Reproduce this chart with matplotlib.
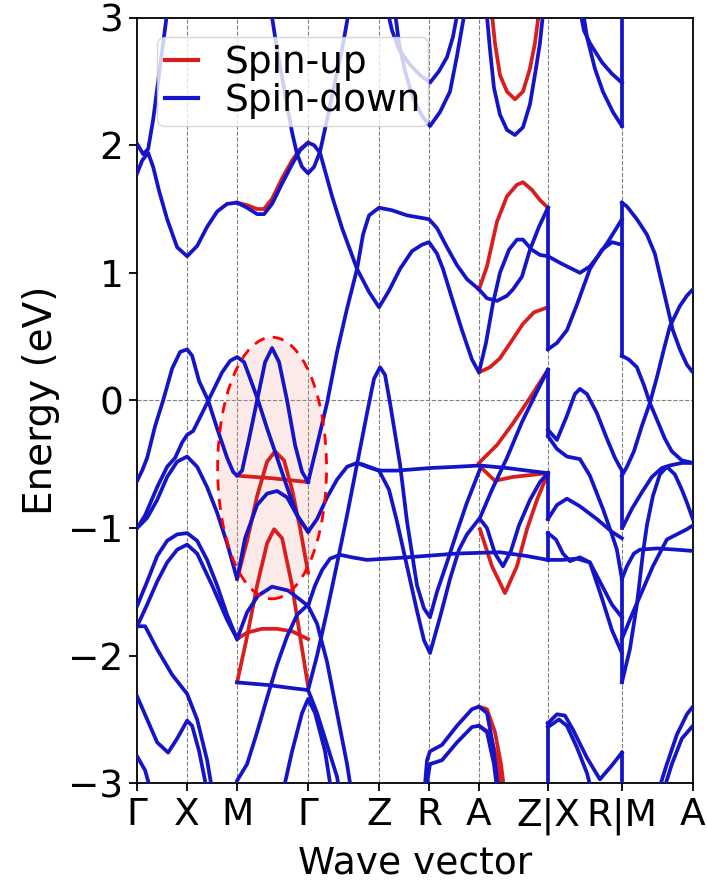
import matplotlib.pyplot as plt
from matplotlib.patches import Ellipse
from matplotlib.lines import Line2D

# high-symmetry path (k in path units)
k_ticks = [0.0, 0.50, 1.00, 1.71, 2.42, 2.92, 3.42, 4.11, 4.85, 5.56]
k_labels = ['Γ', 'X', 'M', 'Γ', 'Z', 'R', 'A', 'Z|X', 'R|M', 'A']

# spin-down bands, (k, E)
spin_down = [
    [(0, 2.01), (0.06, 1.93), (0.11, 1.97), (0.16, 2.2), (0.21, 2.5), (0.26, 2.8), (0.31, 3.1)],
    [(0, 1.78), (0.05, 1.88), (0.11, 1.94), (0.16, 1.83), (0.22, 1.64), (0.3, 1.42), (0.4, 1.2),
     (0.5, 1.13), (0.6, 1.21), (0.7, 1.36), (0.8, 1.48), (0.9, 1.54), (1.0, 1.55), (1.1, 1.51),
     (1.2, 1.46), (1.27, 1.46), (1.35, 1.54), (1.45, 1.7), (1.55, 1.85), (1.63, 1.96), (1.71, 2.02),
     (1.77, 2.0), (1.83, 1.94), (1.95, 1.6), (2.05, 1.35), (2.2, 1.03), (2.32, 0.85), (2.42, 0.73),
     (2.52, 0.86), (2.63, 1.03), (2.75, 1.17), (2.85, 1.22), (2.92, 1.24), (3.0, 1.15), (3.06, 1.03),
     (3.15, 0.8), (3.25, 0.55), (3.35, 0.32), (3.42, 0.22), (3.49, 0.45), (3.56, 0.76), (3.63, 1.0),
     (3.72, 1.18), (3.8, 1.26), (3.86, 1.26), (3.95, 1.18), (4.03, 1.14), (4.11, 1.13)],
    [(1.33, 3.1), (1.4, 2.75), (1.48, 2.4), (1.55, 2.1), (1.6, 1.93), (1.65, 1.83), (1.71, 1.78),
     (1.77, 1.83), (1.83, 1.95), (1.9, 2.2), (1.98, 2.5), (2.05, 2.75), (2.13, 3.1)],
    [(1.71, -0.64), (1.8, -0.35), (1.9, -0.02), (2.0, 0.38), (2.1, 0.72), (2.2, 1.03), (2.26, 1.3),
     (2.32, 1.45), (2.42, 1.51), (2.55, 1.49), (2.7, 1.45), (2.92, 1.42), (3.0, 1.35), (3.1, 1.2),
     (3.2, 1.06), (3.3, 0.95), (3.42, 0.87), (3.5, 0.8), (3.6, 0.78), (3.7, 0.82), (3.76, 0.87),
     (3.85, 0.97), (3.93, 1.18), (4.02, 1.36), (4.11, 1.51)],
    [(2.49, 3.1), (2.55, 2.9), (2.62, 2.75), (2.73, 2.63), (2.83, 2.55), (2.93, 2.49), (3.02, 2.58),
     (3.1, 2.69), (3.16, 2.85), (3.22, 3.1)],
    [(2.57, 3.1), (2.62, 2.8), (2.68, 2.58), (2.76, 2.37), (2.85, 2.23), (2.93, 2.15), (3.03, 2.26),
     (3.13, 2.42), (3.2, 2.7), (3.29, 3.1)],
    [(3.49, 3.1), (3.53, 2.75), (3.57, 2.45), (3.63, 2.24), (3.7, 2.12), (3.78, 2.08), (3.86, 2.14),
     (3.93, 2.32), (3.99, 2.6), (4.03, 2.8), (4.07, 3.1)],
    [(4.42, 3.1), (4.47, 2.9), (4.53, 2.8), (4.65, 2.65), (4.75, 2.56), (4.85, 2.49)],
    [(4.45, 3.1), (4.5, 2.85), (4.58, 2.6), (4.66, 2.42), (4.76, 2.26), (4.85, 2.15)],
    # Gamma-X-M-Gamma valence region
    [(0, -0.63), (0.05, -0.55), (0.1, -0.45), (0.18, -0.2), (0.26, 0.0), (0.35, 0.25), (0.43, 0.38),
     (0.5, 0.40), (0.55, 0.35), (0.62, 0.15), (0.71, 0.0), (0.8, -0.22), (0.9, -0.45), (0.96, -0.56),
     (1.0, -0.59), (1.05, -0.55), (1.12, -0.3), (1.2, 0.0), (1.28, 0.3), (1.35, 0.41), (1.42, 0.3),
     (1.5, 0.0), (1.58, -0.35), (1.65, -0.56), (1.71, -0.64)],
    [(0, -1.0), (0.08, -0.9), (0.2, -0.68), (0.3, -0.52), (0.38, -0.45), (0.45, -0.33), (0.5, -0.27),
     (0.56, -0.24), (0.65, -0.1), (0.75, 0.06), (0.85, 0.22), (0.93, 0.31), (1.0, 0.34), (1.07, 0.3),
     (1.15, 0.13), (1.21, 0.0), (1.3, -0.22), (1.4, -0.45), (1.5, -0.68), (1.6, -0.9), (1.71, -1.03),
     (1.8, -0.93), (1.9, -0.76), (2.0, -0.62), (2.1, -0.52), (2.2, -0.49), (2.3, -0.52), (2.42, -0.55),
     (2.52, -0.7), (2.6, -0.95), (2.7, -1.3), (2.8, -1.65), (2.87, -1.88), (2.93, -1.98), (3.03, -1.7),
     (3.13, -1.40), (3.22, -1.17), (3.3, -1.05), (3.43, -0.92), (3.55, -0.7), (3.7, -0.45),
     (3.85, -0.17), (4.0, 0.07), (4.11, 0.24)],
    [(2.25, -0.5), (2.42, -0.55), (2.6, -0.55), (2.93, -0.53), (3.2, -0.52), (3.43, -0.51),
     (3.7, -0.53), (3.9, -0.55), (4.11, -0.57)],
    [(1.71, -2.27), (1.8, -2.0), (1.9, -1.65), (2.0, -1.28), (2.1, -0.9), (2.2, -0.5), (2.3, -0.1),
     (2.37, 0.17), (2.43, 0.26), (2.48, 0.2), (2.53, -0.02), (2.63, -0.5), (2.7, -0.95), (2.8, -1.45),
     (2.87, -1.63), (2.93, -1.70), (3.0, -1.5), (3.1, -1.27), (3.2, -1.03), (3.3, -0.8), (3.43, -0.54)],
    [(0, -1.61), (0.1, -1.42), (0.2, -1.22), (0.3, -1.1), (0.4, -1.05), (0.5, -1.04), (0.6, -1.1),
     (0.7, -1.25), (0.8, -1.45), (0.9, -1.68), (1.0, -1.87), (1.1, -1.66), (1.21, -1.53), (1.35, -1.46),
     (1.51, -1.49), (1.71, -1.61), (1.78, -1.45), (1.85, -1.33), (1.93, -1.24), (2.03, -1.21),
     (2.15, -1.23), (2.3, -1.25), (2.7, -1.23), (3.2, -1.2), (3.63, -1.19), (3.9, -1.22), (4.11, -1.25)],
    [(0, -1.0), (0.1, -0.92), (0.2, -0.78), (0.3, -0.6), (0.4, -0.48), (0.5, -0.44), (0.6, -0.52),
     (0.7, -0.68), (0.8, -0.88), (0.9, -1.12), (1.0, -1.40), (1.08, -1.08), (1.2, -0.82), (1.3, -0.73),
     (1.4, -0.71), (1.5, -0.76), (1.6, -0.9), (1.71, -1.03)],
    [(0, -1.77), (0.1, -1.6), (0.2, -1.42), (0.3, -1.27), (0.4, -1.17), (0.5, -1.13), (0.6, -1.2),
     (0.75, -1.45), (0.9, -1.72), (1.0, -1.87)],
    [(0, -1.77), (0.08, -1.77), (0.2, -1.95), (0.35, -2.15), (0.5, -2.3), (0.6, -2.5), (0.7, -2.82),
     (0.76, -3.1)],
    [(0, -2.32), (0.1, -2.5), (0.2, -2.68), (0.31, -2.76), (0.4, -2.65), (0.5, -2.51), (0.55, -2.55),
     (0.62, -2.75), (0.71, -3.1)],
    [(0, -2.79), (0.08, -2.9), (0.15, -3.1)],
    [(1.0, -2.21), (1.3, -2.23), (1.6, -2.26), (1.71, -2.27)],
    [(1.0, -2.98), (1.1, -2.85), (1.2, -2.6), (1.3, -2.33), (1.4, -2.07), (1.5, -1.85), (1.6, -1.68),
     (1.71, -1.6)],
    [(1.71, -1.61), (1.8, -1.75), (1.9, -2.05), (2.0, -2.45), (2.1, -2.85), (2.15, -3.1)],
    [(1.71, -2.27), (1.8, -2.45), (1.9, -2.7), (2.0, -2.95), (2.03, -3.1)],
    [(1.45, -3.1), (1.55, -2.75), (1.65, -2.45), (1.71, -2.34), (1.78, -2.45), (1.88, -2.75), (1.95, -3.1)],
    [(2.87, -3.1), (2.9, -2.82), (2.93, -2.75), (3.05, -2.7), (3.2, -2.55), (3.35, -2.42), (3.42, -2.40),
     (3.5, -2.45), (3.56, -2.7), (3.62, -3.1)],
    [(2.88, -3.1), (2.93, -2.85), (3.05, -2.82), (3.2, -2.68), (3.35, -2.56), (3.42, -2.55), (3.5, -2.6),
     (3.57, -2.85), (3.61, -3.1)],
    [(3.43, -0.93), (3.5, -1.0), (3.58, -1.2), (3.66, -1.30), (3.74, -1.18), (3.82, -0.98), (3.93, -0.78),
     (4.03, -0.64), (4.11, -0.57)],
    # Z|X - R|M
    [(4.11, 1.13), (4.25, 1.07), (4.43, 1.0), (4.53, 1.05), (4.62, 1.14), (4.7, 1.23), (4.78, 1.33),
     (4.85, 1.42)],
    [(4.11, 0.40), (4.2, 0.45), (4.3, 0.55), (4.4, 0.75), (4.53, 1.03), (4.65, 1.18), (4.75, 1.24),
     (4.85, 1.22)],
    [(4.11, -0.23), (4.2, -0.31), (4.3, -0.12), (4.38, 0.05), (4.43, 0.09), (4.5, 0.05), (4.6, -0.1),
     (4.7, -0.3), (4.78, -0.45), (4.85, -0.55)],
    [(4.11, -0.28), (4.2, -0.38), (4.3, -0.44), (4.43, -0.46), (4.53, -0.59), (4.66, -0.85),
     (4.75, -1.05), (4.8, -1.17), (4.85, -1.40)],
    [(4.11, -0.93), (4.2, -0.82), (4.3, -0.77), (4.43, -0.83), (4.6, -0.93), (4.75, -1.03), (4.85, -1.08)],
    [(4.11, -1.04), (4.19, -1.09), (4.26, -1.2), (4.33, -1.26), (4.43, -1.23), (4.53, -1.27),
     (4.65, -1.45), (4.75, -1.6), (4.85, -1.70)],
    [(4.11, -1.25), (4.25, -1.25), (4.4, -1.24), (4.53, -1.27), (4.65, -1.55), (4.75, -1.8), (4.85, -1.98)],
    [(4.11, -2.53), (4.2, -2.46), (4.28, -2.47), (4.36, -2.58), (4.5, -2.8), (4.63, -2.97), (4.75, -2.86),
     (4.85, -2.76)],
    [(4.11, -2.56), (4.22, -2.5), (4.3, -2.55), (4.4, -2.72), (4.5, -2.92), (4.56, -3.1)],
    # R|M - A
    [(4.85, 1.55), (4.9, 1.52), (5.0, 1.42), (5.1, 1.3), (5.18, 1.15), (5.24, 0.95), (5.3, 0.75),
     (5.36, 0.55), (5.43, 0.4), (5.5, 0.28), (5.56, 0.22)],
    [(4.85, 0.35), (4.92, 0.32), (5.0, 0.26), (5.07, 0.12), (5.13, -0.02), (5.2, -0.15), (5.28, -0.3),
     (5.35, -0.4), (5.45, -0.47), (5.56, -0.49)],
    [(4.85, -0.59), (4.9, -0.52), (4.97, -0.4), (5.05, -0.2), (5.13, -0.02), (5.2, 0.18), (5.27, 0.4),
     (5.33, 0.58), (5.43, 0.74), (5.5, 0.82), (5.56, 0.87)],
    [(4.86, -0.99), (4.95, -0.85), (5.05, -0.72), (5.15, -0.6), (5.25, -0.53), (5.33, -0.51),
     (5.45, -0.49), (5.56, -0.49)],
    [(4.85, -2.21), (4.93, -1.95), (5.0, -1.6), (5.06, -1.2), (5.1, -0.98), (5.16, -0.75), (5.23, -0.58),
     (5.3, -0.52), (5.38, -0.58), (5.45, -0.7), (5.5, -0.8), (5.56, -0.93)],
    [(4.85, -1.40), (4.9, -1.3), (4.97, -1.2), (5.03, -1.17), (5.2, -1.16), (5.4, -1.17), (5.56, -1.18)],
    [(4.85, -1.87), (4.95, -1.68), (5.05, -1.5), (5.16, -1.3), (5.3, -1.09), (5.5, -1.01), (5.56, -0.98)],
    [(5.2, -3.1), (5.3, -2.85), (5.4, -2.62), (5.5, -2.46), (5.56, -2.40)],
    [(5.25, -3.1), (5.35, -2.85), (5.45, -2.65), (5.56, -2.55)],
]

# jumps drawn where the path is broken (Z|X and R|M)
jumps = [
    (4.11, 1.51, 0.40), (4.11, 0.24, -0.28), (4.11, -0.57, -0.93), (4.11, -1.04, -1.25),
    (4.11, -2.53, -3.1),
    (4.85, 2.15, 3.1), (4.85, 1.55, 0.35), (4.85, -0.55, -1.0), (4.85, -1.40, -2.21),
    (4.85, -2.76, -3.1),
]

# spin-up bands where they differ from spin-down
spin_up = [
    [(1.0, 1.55), (1.1, 1.53), (1.2, 1.5), (1.27, 1.5), (1.35, 1.58), (1.45, 1.74), (1.55, 1.88),
     (1.63, 1.97), (1.71, 2.02)],
    [(1.0, -0.59), (1.35, -0.61), (1.71, -0.64)],
    [(1.0, -1.40), (1.1, -1.1), (1.2, -0.75), (1.3, -0.48), (1.38, -0.40), (1.47, -0.47), (1.55, -0.7),
     (1.63, -1.0), (1.71, -1.35)],
    [(1.0, -2.21), (1.1, -1.85), (1.2, -1.45), (1.3, -1.12), (1.37, -1.01), (1.45, -1.08), (1.55, -1.45),
     (1.63, -1.85), (1.71, -2.24)],
    [(1.0, -1.87), (1.1, -1.82), (1.25, -1.79), (1.4, -1.79), (1.55, -1.81), (1.71, -1.87)],
    [(3.42, 0.87), (3.5, 1.05), (3.6, 1.4), (3.7, 1.6), (3.8, 1.69), (3.86, 1.71), (3.95, 1.65),
     (4.03, 1.57), (4.11, 1.51)],
    [(3.42, 0.22), (3.53, 0.26), (3.63, 0.33), (3.75, 0.47), (3.86, 0.6), (3.97, 0.69), (4.11, 0.73)],
    [(3.42, -0.49), (3.6, -0.35), (3.76, -0.18), (3.93, 0.02), (4.11, 0.24)],
    [(3.42, -0.51), (3.58, -0.63), (3.76, -0.6), (4.11, -0.57)],
    [(3.43, -1.01), (3.55, -1.3), (3.68, -1.51), (3.8, -1.3), (3.9, -1.01), (4.0, -0.78), (4.11, -0.57)],
    [(3.54, 3.1), (3.58, 2.8), (3.63, 2.55), (3.7, 2.42), (3.78, 2.36), (3.86, 2.42), (3.93, 2.6),
     (3.98, 2.8), (4.03, 3.1)],
    [(3.42, -2.40), (3.5, -2.42), (3.58, -2.6), (3.64, -2.85), (3.68, -3.1)],
    [(3.42, -2.55), (3.52, -2.6), (3.6, -2.8), (3.65, -3.1)],
]

up_color = '#d81e1e'
down_color = '#1414c8'
lw = 2.7

fig = plt.figure(figsize=(7.07, 8.8), dpi=100)
ax = fig.add_axes([0.194, 0.110, 0.786, 0.870])

# highlighted region
ax.add_patch(Ellipse((1.35, -0.53), 1.09, 2.05, facecolor=(0.92, 0.55, 0.5, 0.18),
                     edgecolor='none', zorder=1))
ax.add_patch(Ellipse((1.35, -0.53), 1.09, 2.05, facecolor='none', edgecolor='red',
                     ls=(0, (4, 3)), lw=2, zorder=5))

for band in spin_up:
    ks, es = zip(*band)
    ax.plot(ks, es, color=up_color, lw=lw, zorder=2)
for band in spin_down:
    ks, es = zip(*band)
    ax.plot(ks, es, color=down_color, lw=lw, zorder=3)
for k, e0, e1 in jumps:
    ax.plot([k, k], [e0, e1], color=down_color, lw=lw, zorder=3)

for k in k_ticks[1:-1]:
    ax.axvline(k, color='gray', ls='--', lw=0.8, zorder=0)
ax.axhline(0, color='gray', ls='--', lw=0.8, zorder=0)

ax.set_xlim(k_ticks[0], k_ticks[-1])
ax.set_ylim(-3, 3)
ax.set_xticks(k_ticks)
ax.set_xticklabels(k_labels)
ax.set_yticks([-3, -2, -1, 0, 1, 2, 3])
ax.tick_params(labelsize=27, length=6, width=1.3, pad=4)
for s in ax.spines.values():
    s.set_linewidth(1.3)
ax.set_xlabel('Wave vector', fontsize=27, labelpad=8)
ax.set_ylabel('Energy (eV)', fontsize=28, labelpad=6)

handles = [Line2D([], [], color=up_color, lw=3), Line2D([], [], color=down_color, lw=3)]
ax.legend(handles, ['Spin-up', 'Spin-down'], loc='upper left', fontsize=27, framealpha=0.8,
          handlelength=0.9, handletextpad=0.7, borderpad=0.2, labelspacing=0.05,
          borderaxespad=0.53)

fig.savefig('out.png', dpi=100)
